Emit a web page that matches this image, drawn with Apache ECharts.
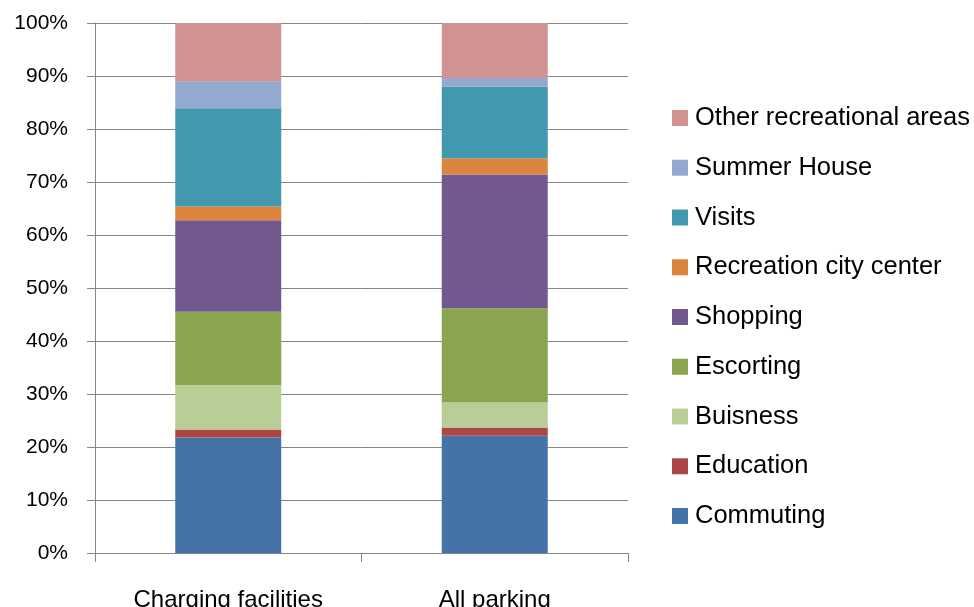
<!DOCTYPE html>
<html><head><meta charset="utf-8">
<script src="https://cdn.jsdelivr.net/npm/echarts@6/dist/echarts.min.js"></script>
<style>html,body{margin:0;padding:0;background:#fff}#c{width:974px;height:607px}</style>
</head><body><div id="c"></div>
<script>
const categories = ['Charging facilities', 'All parking'];
const seriesNames = ['Commuting','Education','Buisness','Escorting','Shopping','Recreation city center','Visits','Summer House','Other recreational areas'];
const commuting = [21.8, 22.1];
const education = [1.5, 1.6];
const business = [8.4, 4.7];
const escorting = [13.8, 17.8];
const shopping = [17.3, 25.2];
const recreationCity = [2.6, 3.1];
const visits = [18.5, 13.5];
const summerHouse = [5.1, 1.6];
const otherRecreational = [11.0, 10.4];
const yTicks = [0,10,20,30,40,50,60,70,80,90,100];

const values = [commuting, education, business, escorting, shopping, recreationCity, visits, summerHouse, otherRecreational];
const colors = ['#4572A7','#AA4643','#B9CE96','#89A54E','#71588F','#DB843D','#4198AF','#93A9CF','#D19392'];
const font = 'Liberation Sans';

const chart = echarts.init(document.getElementById('c'), null, {renderer:'canvas'});
chart.setOption({
  animation:false,
  backgroundColor:'#fff',
  textStyle:{fontFamily:font},
  grid:{left:95, right:346, top:23, bottom:54, containLabel:false, outerBoundsMode:'none'},
  legend:{
    orient:'vertical', left:672, top:105, padding:0,
    data: seriesNames.slice().reverse(),
    itemWidth:16, itemHeight:16, itemGap:23.75,
    icon:'rect',
    textStyle:{fontSize:25.5, color:'#000', fontFamily:font, lineHeight:26, padding:[0,0,0,2]}
  },
  xAxis:{
    type:'category', data:categories,
    axisLine:{lineStyle:{color:'#868686'}},
    axisTick:{show:true, length:9, lineStyle:{color:'#868686'}},
    axisLabel:{color:'#000', fontSize:24, margin:35, fontFamily:font}
  },
  yAxis:{
    type:'value', min:0, max:100, interval:10,
    axisLine:{show:true, lineStyle:{color:'#868686'}},
    axisTick:{show:true, length:8, lineStyle:{color:'#868686'}},
    splitLine:{lineStyle:{color:'#868686'}},
    axisLabel:{formatter: v => yTicks.includes(v) ? v + '%' : '', color:'#000', fontSize:21, margin:27, fontFamily:font}
  },
  series: seriesNames.map((n,i)=>({
    name:n, type:'bar', stack:'total', data:values[i],
    barWidth:106,
    itemStyle:{color:colors[i]}
  }))
});
</script></body></html>
